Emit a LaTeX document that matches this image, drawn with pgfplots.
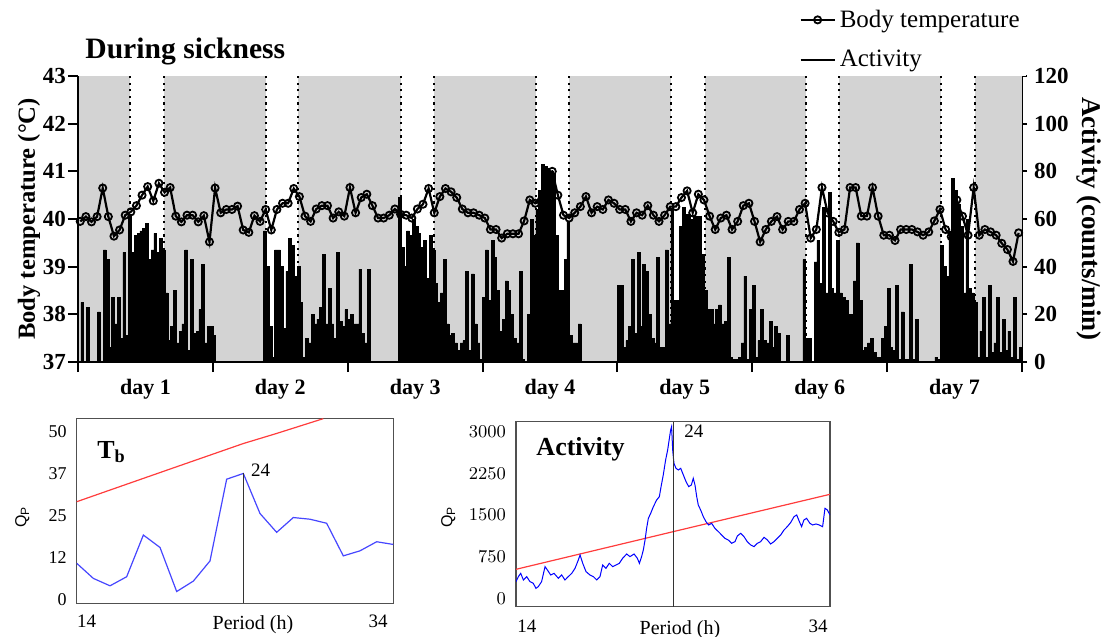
\documentclass[border=0pt]{standalone}
\usepackage{fontspec}
\setmainfont{Liberation Serif}
\newfontfamily\arialfont{Liberation Sans}
\usepackage{pgfplots}
\pgfplotsset{compat=1.18}
\definecolor{night}{RGB}{211,211,211}
\definecolor{qblue}{RGB}{70,70,255}
\definecolor{qred}{RGB}{255,60,60}
\definecolor{frame}{RGB}{80,80,80}

\begin{document}
\begin{tikzpicture}
\useasboundingbox (0,-318.5pt) rectangle (557pt,0pt);

% ---------- top panel: activity (right axis), drawn first ----------
\begin{axis}[
    at={(39pt,-181pt)}, anchor=south west,
    width=472pt, height=143pt, scale only axis,
    xmin=0, xmax=168, ymin=0, ymax=120,
    axis x line=none,
    axis y line*=right,
    axis line style={-, line width=1pt},
    ytick={0,20,...,120},
    tick align=outside,
    major tick length=2.5pt,
    tick style={line width=1pt, black},
    yticklabel style={font=\fontsize{11.5}{12}\selectfont\bfseries},
    /pgf/number format/assume math mode=true,
    ylabel={Activity (counts/min)},
    every axis y label/.style={at={(axis description cs:1.071,0.5)}, rotate=-90, anchor=center,
        font=\fontsize{13.5}{14}\selectfont\bfseries},
]
    % dark phases
    \fill[night] (axis cs:0,0) rectangle (axis cs:9.25,120);
    \fill[night] (axis cs:15.3,0) rectangle (axis cs:33.4,120);
    \fill[night] (axis cs:39.2,0) rectangle (axis cs:57.4,120);
    \fill[night] (axis cs:63.4,0) rectangle (axis cs:81.5,120);
    \fill[night] (axis cs:87.4,0) rectangle (axis cs:105.5,120);
    \fill[night] (axis cs:111.5,0) rectangle (axis cs:129.6,120);
    \fill[night] (axis cs:135.5,0) rectangle (axis cs:153.5,120);
    \fill[night] (axis cs:159.6,0) rectangle (axis cs:168,120);
    % light/dark boundaries
    \pgfplotsinvokeforeach{9.25,15.3,33.4,39.2,57.4,63.4,81.5,87.4,105.5,111.5,129.6,135.5,153.5,159.6}{
        \draw[black, line width=1pt, dash pattern=on 1.1pt off 2.2pt] (axis cs:#1,0) -- (axis cs:#1,120);
    }

    % activity, 30-min bins
    \addplot[const plot, fill=black, draw=black, line width=0.3pt] coordinates {
    (0,0) (0.5,25) (1,0) (1.5,23) (2,0) (3.5,21) (4,0) (4.5,47) (5,43) (5.5,6)
    (6,27) (6.5,16) (7,27) (7.5,10) (8,46) (8.5,11) (9,62) (9.5,46) (10,53) (10.5,54)
    (11,55) (11.5,56) (12,58) (12.5,43) (13,47) (13.5,54) (14,46) (14.5,52) (15,47) (15.5,29)
    (16,9) (16.5,15) (17,30) (17.5,8) (18,13) (18.5,16) (19,47) (19.5,5) (20,43) (20.5,12)
    (21,13) (21.5,22) (22,41) (22.5,8) (23,15) (23.5,15) (24,11) (24.5,0)
    (33,55) (33.5,40) (34,15) (34.5,2) (35,47) (35.5,47) (36,40) (36.5,14) (37,38) (37.5,52)
    (38,49) (38.5,36) (39,40) (39.5,25) (40,2) (40.5,10) (41,8) (41.5,20) (42,16) (42.5,18)
    (43,23) (43.5,45) (44,16) (44.5,31) (45,16) (45.5,10) (46,46) (46.5,17) (47,15) (47.5,22)
    (48,18) (48.5,20) (49,16) (49.5,16) (50,39) (50.5,12) (51,8) (51.5,39) (52,0)
    (57,69) (57.5,48) (58,40) (58.5,55) (59,53) (59.5,60) (60,57) (60.5,54) (61,48) (61.5,51)
    (62,35) (62.5,53) (63,47) (63.5,33) (64,25) (64.5,29) (65,43) (65.5,16) (66,11) (66.5,12)
    (67,8) (67.5,5) (68,8) (68.5,9) (69,38) (69.5,5) (70,37) (70.5,16) (71,8) (71.5,1)
    (72,27) (72.5,47) (73,26) (73.5,51) (74,44) (74.5,30) (75,13) (75.5,18) (76,34) (76.5,30)
    (77,20) (77.5,10) (78,8) (78.5,38) (79,1) (79.5,0) (80,20) (80.5,60) (81,53) (81.5,64)
    (82,72) (82.5,83) (83,82) (83.5,80) (84,80) (84.5,79) (85,53) (85.5,30) (86,30) (86.5,43)
    (87,59) (87.5,11) (88,8) (88.5,8) (89,16) (89.5,0)
    (96,32) (96.5,32) (97,6) (97.5,9) (98,15) (98.5,43) (99,12) (99.5,46) (100,15) (100.5,41)
    (101,38) (101.5,20) (102,10) (102.5,8) (103,44) (103.5,6) (104,6) (104.5,47) (105,16) (105.5,64)
    (106,26) (106.5,26) (107,57) (107.5,65) (108,62) (108.5,62) (109,60) (109.5,61) (110,61) (110.5,61)
    (111,45) (111.5,30) (112,22) (112.5,22) (113,16) (113.5,22) (114,24) (114.5,16) (115,17) (115.5,44)
    (116,2) (116.5,1) (117,1) (117.5,2) (118,8) (118.5,36) (119,1) (119.5,22)
    (120,32) (120.5,2) (121,9) (121.5,22) (122,9) (122.5,8) (123,17) (123.5,6) (124,15) (124.5,12)
    (125,0) (126,11) (126.5,0) (129,43) (129.5,10) (130,10) (130.5,0) (131,42) (131.5,51) (132,33)
    (132.5,65) (133,29) (133.5,71) (134,31) (134.5,29) (135,51) (135.5,29) (136,27) (136.5,26) (137,20)
    (137.5,20) (138,34) (138.5,50) (139,26) (139.5,5) (140,6) (140.5,8) (141,10) (141.5,4) (142,2)
    (142.5,2) (143,10) (143.5,15)
    (144,31) (144.5,6) (145,5) (145.5,32) (146,1) (146.5,21) (147,1) (147.5,1) (148,41) (148.5,1)
    (149,18) (149.5,0) (152.5,2) (153,1) (153.5,49) (154,40) (154.5,36) (155,55) (155.5,77) (156,72)
    (156.5,66) (157,57) (157.5,29) (158,60) (158.5,31) (159,29) (159.5,25) (160,2) (160.5,13) (161,27)
    (161.5,2) (162,32) (162.5,4) (163,8) (163.5,27) (164,4) (164.5,18) (165,5) (165.5,13) (166,2)
    (166.5,27) (167,1) (167.5,6) (168,6)
    } \closedcycle;
\end{axis}

% ---------- top panel: body temperature (left axis) ----------
\begin{axis}[
    at={(39pt,-181pt)}, anchor=south west,
    width=472pt, height=143pt, scale only axis,
    xmin=0, xmax=168, ymin=37, ymax=43,
    axis y line*=left, axis x line*=bottom,
    axis line style={-, line width=1pt},
    xtick={0,24,...,168}, xticklabels={},
    extra x ticks={12,36,...,156},
    extra x tick labels={day 1,day 2,day 3,day 4,day 5,day 6,day 7},
    extra x tick style={major tick length=0pt,
        xticklabel style={font=\fontsize{11}{12}\selectfont\bfseries, yshift=-5pt}},
    ytick={37,38,...,43},
    tick align=outside,
    major tick length=5pt,
    tick style={line width=1pt, black},
    yticklabel style={font=\fontsize{11.5}{12}\selectfont\bfseries, xshift=2.5pt},
    /pgf/number format/assume math mode=true,
    ylabel={Body temperature ({\char"B0}C)},
    every axis y label/.style={at={(axis description cs:-0.052,0.5)}, rotate=90, anchor=center,
        font=\fontsize{12.3}{13}\selectfont\bfseries},
    legend style={draw=none, fill=white, at={(axis description cs:1,1)}, anchor=south east,
        xshift=2pt, font=\fontsize{12.5}{14}\selectfont, row sep=6pt, inner sep=1pt},
    legend cell align=left,
]
    \addplot[black, line width=1.1pt, mark=o, mark size=1.8pt,
        mark options={fill=white, line width=0.9pt}] coordinates {
    (0.4,39.95) (1.4,40.05) (2.4,39.94) (3.4,40.05) (4.4,40.65) (5.4,40.05) (6.4,39.64) (7.4,39.77)
    (8.4,40.08) (9.4,40.15) (10.4,40.28) (11.4,40.5) (12.4,40.68) (13.4,40.38) (14.4,40.75) (15.4,40.56)
    (16.4,40.66) (17.4,40.06) (18.4,39.94) (19.4,40.08) (20.4,40.08) (21.4,39.94) (22.4,40.07) (23.4,39.52)
    (24.4,40.65) (25.4,40.13) (26.4,40.2) (27.4,40.2) (28.4,40.27) (29.4,39.77) (30.4,39.72) (31.4,40.07)
    (32.4,39.95) (33.4,40.2) (34.4,39.77) (35.4,40.2) (36.4,40.33) (37.4,40.33) (38.4,40.64) (39.4,40.47)
    (40.4,40.06) (41.4,39.95) (42.4,40.21) (43.4,40.28) (44.4,40.28) (45.4,40.02) (46.4,40.15) (47.4,40.06)
    (48.4,40.66) (49.4,40.13) (50.4,40.45) (51.4,40.52) (52.4,40.28) (53.4,40.02) (54.4,40.02) (55.4,40.08)
    (56.4,40.21) (57.4,40.1) (58.4,40.08) (59.4,40.02) (60.4,40.21) (61.4,40.31) (62.4,40.64) (63.4,40.13)
    (64.4,40.47) (65.4,40.64) (66.4,40.57) (67.4,40.45) (68.4,40.21) (69.4,40.13) (70.4,40.13) (71.4,40.08)
    (72.4,40.02) (73.4,39.78) (74.4,39.78) (75.4,39.6) (76.4,39.69) (77.4,39.69) (78.4,39.69) (79.4,39.96)
    (80.4,40.4) (81.4,40.33) (82.4,40.38) (83.4,40.99) (84.4,41.0) (85.4,40.5) (86.4,40.08) (87.4,40.02)
    (88.4,40.13) (89.4,40.26) (90.4,40.47) (91.4,40.13) (92.4,40.26) (93.4,40.2) (94.4,40.4) (95.4,40.33)
    (96.4,40.2) (97.4,40.2) (98.4,39.95) (99.4,40.13) (100.4,40.08) (101.4,40.28) (102.4,40.08) (103.4,39.95)
    (104.4,40.08) (105.4,40.26) (106.4,40.26) (107.4,40.45) (108.4,40.59) (109.4,40.13) (110.4,40.52) (111.4,40.4)
    (112.4,40.06) (113.4,39.78) (114.4,40.02) (115.4,40.08) (116.4,39.78) (117.4,39.95) (118.4,40.28) (119.4,40.33)
    (120.4,39.95) (121.4,39.52) (122.4,39.78) (123.4,39.95) (124.4,40.05) (125.4,39.78) (126.4,39.95) (127.4,39.95)
    (128.4,40.2) (129.4,40.33) (130.4,39.6) (131.4,39.78) (132.4,40.66) (133.4,40.13) (134.4,39.95) (135.4,39.72)
    (136.4,39.78) (137.4,40.66) (138.4,40.66) (139.4,40.06) (140.4,40.06) (141.4,40.66) (142.4,40.06) (143.4,39.66)
    (144.4,39.66) (145.4,39.55) (146.4,39.78) (147.4,39.78) (148.4,39.78) (149.4,39.73) (150.4,39.66) (151.4,39.73)
    (152.4,39.96) (153.4,40.2) (154.4,39.78) (155.4,39.63) (156.4,40.4) (157.4,40.06) (158.4,39.66) (159.4,40.66)
    (160.4,39.66) (161.4,39.78) (162.4,39.73) (163.4,39.66) (164.4,39.49) (165.4,39.36) (166.4,39.11) (167.4,39.71)
    };
    \addlegendentry{Body temperature}
    \addlegendimage{black, line width=1.1pt}
    \addlegendentry{Activity}
\end{axis}

\node[anchor=base west, font=\fontsize{14.8}{16}\selectfont\bfseries, inner sep=0pt]
    at (42.5pt,-29pt) {During sickness};

% ---------- bottom left: Tb periodogram ----------
\begin{axis}[
    at={(38.35pt,-301.65pt)}, anchor=south west,
    width=158.3pt, height=92.5pt, scale only axis,
    xmin=14, xmax=33, ymin=-1, ymax=54,
    axis line style={frame, line width=0.6pt},
    xtick=\empty,
    ytick={0,12.5,25,37.5,50}, yticklabels={0,12,25,37,50},
    major tick length=0pt,
    yticklabel style={font=\fontsize{9}{10}\selectfont, xshift=-1.5pt},
]
    \addplot[qred, line width=0.6pt] coordinates {
        (14,29.2) (17.4,35.1) (20,39.6) (24,46.5) (26,49.5) (28.8,53.9)};
    \addplot[qblue, line width=0.6pt] coordinates {
        (14,10.9) (15,6.4) (16,4.2) (17,6.9) (18,19.3) (19,15.6) (20,2.5) (21,5.6) (22,11.6) (23,35.9)
        (24,37.6) (25,25.7) (26,20.1) (27,24.5) (28,24) (29,22.8) (30,13.1) (31,14.6) (32,17.3) (33,16.5)};
    \draw[black!80, line width=0.5pt] (axis cs:24,-1) -- (axis cs:24,37.6);
    \node[anchor=west, inner sep=0pt, font=\fontsize{9.5}{10}\selectfont] at (axis cs:24.45,38.6) {24};
    \node[anchor=base west, inner sep=0pt, font=\fontsize{13}{14}\selectfont\bfseries]
        at (axis description cs:0.064,0.785) {T\textsubscript{b}};
\end{axis}
\node[anchor=north west, inner sep=0pt, font=\fontsize{9.5}{10}\selectfont] at (38.35pt,-307.5pt) {14};
\node[anchor=north, inner sep=0pt, font=\fontsize{10}{11}\selectfont] at (126.5pt,-307.5pt) {Period (h)};
\node[anchor=north east, inner sep=0pt, font=\fontsize{9.5}{10}\selectfont] at (194pt,-307.5pt) {34};
\node[rotate=90, inner sep=0pt, font=\arialfont\fontsize{8}{9}\selectfont] at (11.2pt,-258.5pt) {Q\textsubscript{P}};

% ---------- bottom right: activity periodogram ----------
\begin{axis}[
    at={(258pt,-303.35pt)}, anchor=south west,
    width=157pt, height=92.5pt, scale only axis,
    xmin=14, xmax=34, ymin=-151, ymax=3179,
    axis line style={frame, line width=0.6pt},
    xtick=\empty,
    ytick={0,750,1500,2250,3000},
    major tick length=0pt,
    yticklabel style={font=\fontsize{9}{10}\selectfont, xshift=-1.5pt},
    /pgf/number format/1000 sep={},
]
    \addplot[qred, line width=0.6pt] coordinates {(14,522) (24,1199) (34,1872)};
    \addplot[blue, line width=0.5pt] coordinates {
        (14.00,300) (14.15,390) (14.30,450) (14.47,330) (14.68,390) (14.89,300) (15.10,270) (15.27,180)
        (15.42,210) (15.63,300) (15.85,570) (16.00,510) (16.21,420) (16.42,450) (16.70,360) (16.91,420)
        (17.12,330) (17.33,390) (17.55,450) (17.76,540) (17.97,690) (18.08,780) (18.25,630) (18.46,480)
        (18.71,420) (18.93,390) (19.14,330) (19.35,390) (19.52,600) (19.73,540) (19.94,630) (20.16,570)
        (20.37,600) (20.58,630) (20.79,720) (21.05,798) (21.26,750) (21.52,798) (21.73,720) (21.86,630)
        (22.00,750) (22.11,870) (22.22,1050) (22.32,1260) (22.43,1440) (22.58,1530) (22.75,1650) (22.96,1770)
        (23.13,1830) (23.24,2010) (23.38,2220) (23.53,2490) (23.66,2670) (23.77,2880) (23.85,3030) (23.91,3090)
        (23.98,2670) (24.06,2430) (24.19,2340) (24.34,2310) (24.49,2340) (24.66,2220) (24.83,2100) (25.00,2010)
        (25.17,2040) (25.29,2160) (25.40,2040) (25.51,1830) (25.61,1680) (25.76,1590) (25.93,1470) (26.10,1380)
        (26.27,1320) (26.46,1350) (26.67,1260) (26.89,1200) (27.10,1140) (27.31,1080) (27.52,1050) (27.74,990)
        (27.95,1020) (28.10,1122) (28.31,1170) (28.52,1110) (28.73,1020) (28.95,960) (29.16,930) (29.37,990)
        (29.58,1020) (29.80,1098) (30.01,1050) (30.22,978) (30.43,1020) (30.64,1080) (30.86,1140) (31.07,1230)
        (31.28,1290) (31.49,1362) (31.71,1470) (31.88,1500) (32.05,1380) (32.19,1290) (32.34,1410) (32.51,1440)
        (32.72,1350) (32.89,1320) (33.11,1338) (33.32,1320) (33.53,1290) (33.68,1620) (33.83,1590) (34.00,1500)};
    \draw[black!80, line width=0.5pt] (axis cs:24,-151) -- (axis cs:24,3179);
    \node[anchor=west, inner sep=0pt, font=\fontsize{9.5}{10}\selectfont] at (axis cs:24.7,3000) {24};
    \node[anchor=base west, inner sep=0pt, font=\fontsize{13}{14}\selectfont\bfseries]
        at (axis description cs:0.064,0.815) {Activity};
\end{axis}
\node[anchor=north west, inner sep=0pt, font=\fontsize{9.5}{10}\selectfont] at (258.5pt,-310pt) {14};
\node[anchor=north, inner sep=0pt, font=\fontsize{10}{11}\selectfont] at (340pt,-310pt) {Period (h)};
\node[anchor=north east, inner sep=0pt, font=\fontsize{9.5}{10}\selectfont] at (414pt,-310pt) {34};
\node[rotate=90, inner sep=0pt, font=\arialfont\fontsize{8}{9}\selectfont] at (224.2pt,-258.5pt) {Q\textsubscript{P}};

\end{tikzpicture}
\end{document}
